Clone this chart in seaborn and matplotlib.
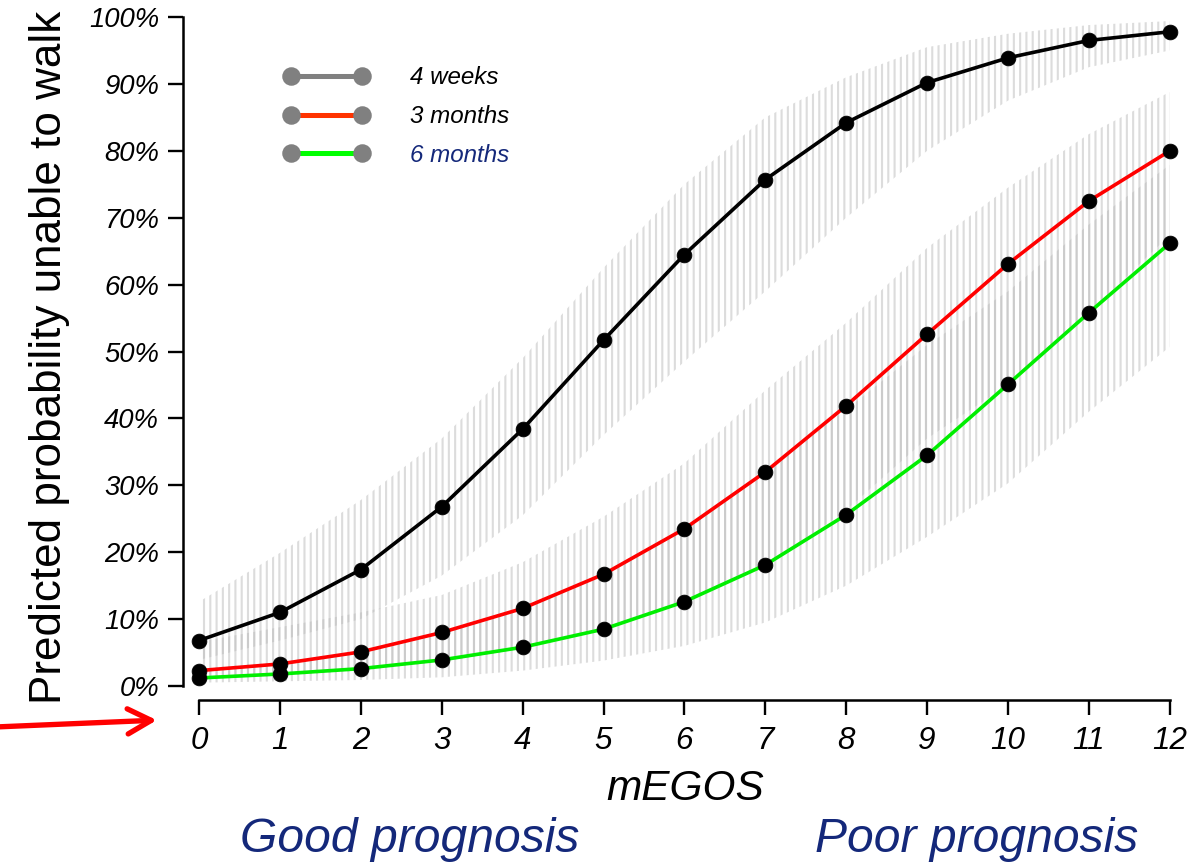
import matplotlib
matplotlib.use("Agg")
import matplotlib.pyplot as plt
from matplotlib.lines import Line2D
import pandas as pd
import seaborn as sns

# mEGOS score and predicted probability (%) of being unable to walk
megos = list(range(13))
periods = ["4 weeks", "3 months", "6 months"]

prob_4w = [6.8, 11.0, 17.4, 26.8, 38.4, 51.7, 64.5, 75.7, 84.2, 90.2, 93.9, 96.5, 97.8]
prob_3m = [2.3, 3.3, 5.1, 8.0, 11.6, 16.7, 23.5, 32.0, 41.9, 52.6, 63.1, 72.5, 80.0]
prob_6m = [1.2, 1.8, 2.6, 3.9, 5.8, 8.5, 12.6, 18.1, 25.6, 34.5, 45.1, 55.8, 66.2]

# 95% confidence limits (%)
lo_4w = [3.9, 6.8, 10.0, 16.5, 25.5, 37.5, 48.5, 59.0, 70.0, 80.0, 87.5, 92.5, 95.0]
hi_4w = [12.6, 19.9, 27.8, 37.0, 49.0, 62.5, 75.0, 85.0, 91.0, 95.5, 97.5, 98.8, 99.4]
lo_3m = [1.0, 1.5, 2.3, 3.6, 5.5, 8.5, 12.9, 17.8, 26.3, 37.0, 45.0, 55.8, 67.4]
hi_3m = [6.6, 8.8, 11.0, 13.6, 18.5, 25.3, 33.3, 44.2, 54.3, 65.5, 74.5, 82.5, 88.8]
lo_6m = [0.5, 0.7, 0.9, 1.3, 2.3, 3.8, 6.0, 9.5, 15.0, 22.3, 30.3, 41.0, 50.7]
hi_6m = [2.6, 3.6, 5.1, 7.8, 11.5, 16.5, 23.8, 32.3, 41.3, 51.0, 59.0, 69.0, 77.9]

y_ticks = [0, 10, 20, 30, 40, 50, 60, 70, 80, 90, 100]
x_ticks = list(range(13))

line_colors = {"4 weeks": "#000000", "3 months": "#ff0000", "6 months": "#00ee00"}
legend_colors = ["#808080", "#ff3300", "#00ff00"]
legend_text_colors = ["black", "black", "#14287a"]
navy = "#14287a"

sns.set_style("ticks")
plt.rcParams["font.family"] = ["Liberation Sans", "DejaVu Sans"]
plt.rcParams["text.color"] = "black"
plt.rcParams["axes.labelcolor"] = "black"
plt.rcParams["xtick.color"] = "black"
plt.rcParams["ytick.color"] = "black"
plt.rcParams["hatch.linewidth"] = 1.35

DPI = 113
fig = plt.figure(figsize=(1191 / DPI, 867 / DPI), dpi=DPI)
ax = fig.add_axes([183 / 1191, 1 - 700 / 867, 997 / 1191, 690 / 867])
ax.set_xlim(-0.198, 12.126)
ax.set_ylim(-2.09, 101.05)

# confidence bands as vertical hatching
hatch_col = (0.74, 0.74, 0.74, 0.52)
for lo, hi in [(lo_4w, hi_4w), (lo_3m, hi_3m), (lo_6m, hi_6m)]:
    ax.fill_between(megos, lo, hi, facecolor="none", edgecolor=hatch_col,
                    hatch="|||", linewidth=0, zorder=1)

df = pd.DataFrame({
    "mEGOS": megos * 3,
    "prob": prob_4w + prob_3m + prob_6m,
    "period": [p for p in periods for _ in megos],
})
sns.lineplot(data=df, x="mEGOS", y="prob", hue="period", hue_order=periods,
             palette=line_colors, marker="o", markersize=9.4,
             markerfacecolor="black", markeredgecolor="black",
             markeredgewidth=0.5, linewidth=2.3, legend=False, ax=ax, zorder=3)

# axes styling
sns.despine(ax=ax)
for side in ["left", "bottom"]:
    ax.spines[side].set_linewidth(1.6)
    ax.spines[side].set_color("black")
ax.spines["left"].set_bounds(0, 100)
ax.spines["bottom"].set_bounds(0, 12)
ax.set_yticks(y_ticks)
ax.set_yticklabels([f"{v}%" for v in y_ticks], fontstyle="italic", fontsize=17.5)
ax.set_xticks(x_ticks)
ax.set_xticklabels([str(v) for v in x_ticks], fontstyle="italic", fontsize=20)
ax.tick_params(axis="y", left=True, direction="out", length=9.6, width=1.5, pad=5.5)
ax.tick_params(axis="x", bottom=True, direction="out", length=9.6, width=1.5, pad=7.0)

ax.set_xlabel("mEGOS", fontsize=27, fontstyle="italic")
ax.xaxis.set_label_coords(0.5035, -0.1449)
ax.xaxis.label.set_va("baseline")

ax.set_ylabel("Predicted probability unable to walk", fontsize=28)
ax.yaxis.set_label_coords(-0.134, 0.497)
ax.yaxis.label.set_va("center")

# legend
handles = [Line2D([], [], color=c, linewidth=3.2, marker="o", markersize=10.8,
                  markerfacecolor="#808080", markeredgecolor="#808080",
                  solid_capstyle="butt")
           for c in legend_colors]
leg = ax.legend(handles, periods, loc="upper left",
                bbox_to_anchor=(261.5 / 1191, 1 - 44.6 / 867),
                bbox_transform=fig.transFigure, frameon=False, numpoints=2,
                handlelength=3.55, handletextpad=1.7, labelspacing=0.65,
                borderpad=0.4, prop={"size": 15.4, "style": "italic"})
for t, c in zip(leg.get_texts(), legend_text_colors):
    t.set_color(c)

# prognosis annotations under the axis
fig.text(240 / 1191, 1 - 852 / 867, "Good prognosis", fontsize=30.6,
         fontstyle="italic", color=navy, ha="left", va="baseline")
fig.text(815 / 1191, 1 - 852 / 867, "Poor prognosis", fontsize=30.6,
         fontstyle="italic", color=navy, ha="left", va="baseline")

# red arrow pointing at the score axis
ax.annotate("", xy=(160, 867 - 720), xytext=(-5, 867 - 727),
            xycoords="figure pixels", textcoords="figure pixels",
            arrowprops=dict(arrowstyle="->,head_length=1.5,head_width=0.8",
                            color="red", lw=3.4, mutation_scale=10),
            annotation_clip=False)

fig.savefig("out.png", dpi=DPI)
